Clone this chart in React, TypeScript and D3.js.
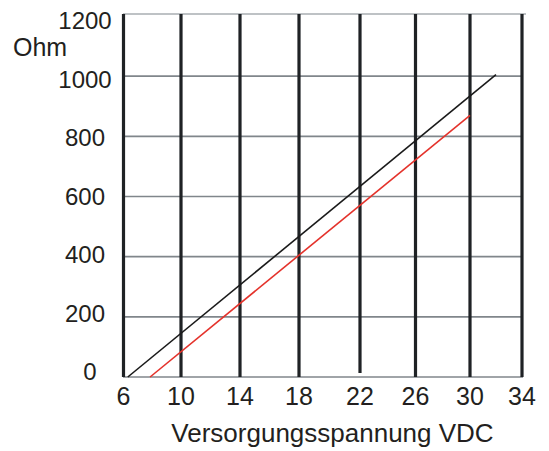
import React from "react";
import * as d3 from "d3";

// tick values as printed on the chart
const voltTicks = [6, 10, 14, 18, 22, 26, 30, 34];
const ohmTicks = [0, 200, 400, 600, 800, 1000, 1200];

// the two characteristic lines (voltage, ohm)
const blackLine = [
    { v: 6.3, r: 0 },
    { v: 32, r: 1005 }
];
const redLine = [
    { v: 7.85, r: 0 },
    { v: 30, r: 870 }
];

const App = () => {
    const width = 549;
    const height = 451;

    // the original drawing has unevenly spaced voltage columns
    const xScale = d3.scaleLinear()
        .domain(voltTicks)
        .range([123.5, 181, 240, 299, 360, 415.5, 470, 522]);

    const yScale = d3.scaleLinear()
        .domain([0, 1200])
        .range([377, 16]);

    // label baselines are spaced a little tighter than the grid
    const yLabel = d3.scaleLinear()
        .domain([0, 1200])
        .range([380, 29]);

    const line = d3.line<{ v: number; r: number }>()
        .x(d => xScale(d.v))
        .y(d => yScale(d.r));

    const font = "'Liberation Sans', Arial, sans-serif";

    return (
        <svg
            width={width}
            height={height}
            style={{ position: "absolute", left: 0, top: 0, background: "#fff" }}
            fontFamily={font}
        >
            {/* horizontal grid */}
            {ohmTicks.map(t => (
                <line
                    key={"h" + t}
                    x1={123}
                    x2={t === 1200 ? 526 : 523}
                    y1={t === 1200 ? 14 : yScale(t)}
                    y2={t === 1200 ? 14 : yScale(t)}
                    stroke={t === 1200 ? "#a9aeb2" : "#80868b"}
                    strokeWidth={1.6}
                />
            ))}

            {/* vertical columns */}
            {voltTicks.map(t => (
                <line
                    key={"v" + t}
                    x1={xScale(t)}
                    x2={xScale(t)}
                    y1={14}
                    y2={t === 22 ? 373 : 377}
                    stroke="#1f2225"
                    strokeWidth={3.2}
                />
            ))}

            <path d={line(blackLine) ?? ""} fill="none" stroke="#1a1a1a" strokeWidth={1.6} />
            <path d={line(redLine) ?? ""} fill="none" stroke="#e4322b" strokeWidth={1.6} />

            {/* y labels */}
            {ohmTicks.map(t => (
                <text
                    key={"yl" + t}
                    x={t === 0 ? 90 : 85}
                    y={yLabel(t)}
                    textAnchor="middle"
                    fontSize={24}
                    fill="#231f20"
                >
                    {t}
                </text>
            ))}
            <text x={13} y={56} fontSize={25} fill="#231f20">Ohm</text>

            {/* x labels */}
            {voltTicks.map(t => (
                <text
                    key={"xl" + t}
                    x={xScale(t)}
                    y={405}
                    textAnchor="middle"
                    fontSize={25}
                    fill="#231f20"
                >
                    {t}
                </text>
            ))}
            <text x={332.5} y={442} textAnchor="middle" fontSize={26} fill="#231f20">
                Versorgungsspannung VDC
            </text>
        </svg>
    );
};

export default App;
